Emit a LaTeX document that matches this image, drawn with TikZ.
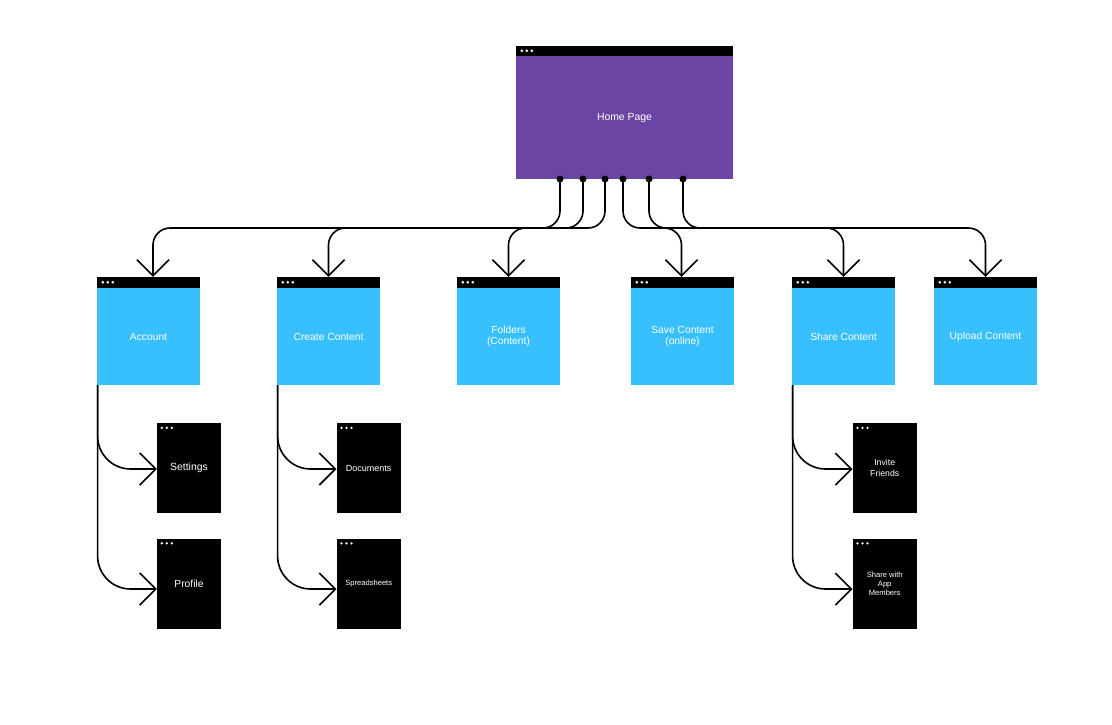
\documentclass[tikz,border=0pt]{standalone}
\usepackage{fontspec}
\setmainfont{Liberation Sans}
\usetikzlibrary{arrows.meta}
\definecolor{hpurple}{HTML}{6A45A3}
\definecolor{hblue}{HTML}{38BFFE}
\tikzset{
  homebox/.style={rectangle, fill=hpurple, minimum width=217pt, minimum height=123pt, inner sep=0pt, text=white, align=center, font=\fontsize{10.4pt}{12pt}\selectfont},
  bluebox/.style={rectangle, fill=hblue, minimum width=103pt, minimum height=97pt, inner sep=0pt, text=white, align=center, font=\fontsize{10.3pt}{11.3pt}\selectfont},
  subbox/.style={rectangle, fill=black, minimum width=64pt, minimum height=90pt, inner sep=0pt, text=white, align=center},
  jdot/.style={circle, fill=black, minimum size=7pt, inner sep=0pt},
  conn/.style={line width=1.6pt, rounded corners=17pt, -{Straight Barb[length=16pt,width=32pt,line width=1.6pt]}},
  subconn/.style={line width=1.6pt, rounded corners=33pt, -{Straight Barb[length=16pt,width=32pt,line width=1.6pt]}},
}
\begin{document}
\begin{tikzpicture}[x=1pt,y=-1pt]
\fill[white] (0,0) rectangle (1112,724);
\useasboundingbox (0,0) rectangle (1112,724);

% home page
\node[homebox] (home) at (624.5,117.5) {Home Page};
\fill[black] (home.north west) rectangle ([yshift=10pt]home.north east);
\foreach \k in {6,11,16} \fill[white] ([xshift=\k pt,yshift=5pt]home.north west) circle (1.4pt);

% level 1
\node[bluebox] (acc) at (148.5,336.5) {Account};
\node[bluebox] (cre) at (328.5,336.5) {Create Content};
\node[bluebox] (fol) at (508.5,336.5) {Folders\\(Content)};
\node[bluebox] (sav) at (682.5,336.5) {Save Content\\(online)};
\node[bluebox] (sha) at (843.5,336.5) {Share Content};
\node[bluebox] (upl) at (985.5,336.5) {Upload Content};
\foreach \n in {acc,cre,fol,sav,sha,upl} {
  \fill[black] (\n.north west) rectangle ([yshift=11pt]\n.north east);
  \foreach \k in {6,11,16} \fill[white] ([xshift=\k pt,yshift=5.5pt]\n.north west) circle (1.4pt);
}

% level 2
\node[subbox, font=\fontsize{10.4pt}{12pt}\selectfont] (set) at (189,468) {Settings};
\node[subbox, font=\fontsize{10.3pt}{12pt}\selectfont] (pro) at (189,583.5) {Profile};
\node[subbox, font=\fontsize{9pt}{11pt}\selectfont] (doc) at (368.7,468) {Documents};
\node[subbox, font=\fontsize{7.6pt}{9pt}\selectfont] (spr) at (368.7,583.5) {Spreadsheets};
\node[subbox, font=\fontsize{8.7pt}{10.7pt}\selectfont] (inv) at (884.7,468) {Invite\\Friends};
\node[subbox, font=\fontsize{7.6pt}{9pt}\selectfont] (swa) at (884.7,583.5) {Share with\\App\\Members};
\foreach \n in {set,pro,doc,spr,inv,swa} {
  \foreach \k in {5,10,15} \fill[white] ([xshift=\k pt,yshift=-5pt]\n.north west) circle (1.3pt);
}

% junction dots
\node[jdot] (d1) at (560,179) {};
\node[jdot] (d2) at (583,179) {};
\node[jdot] (d3) at (605,179) {};
\node[jdot] (d4) at (623,179) {};
\node[jdot] (d5) at (649,179) {};
\node[jdot] (d6) at (683,179) {};
\coordinate (h) at (0,228);

% arrow targets
\coordinate (t1) at ([xshift=4.5pt,yshift=11pt]acc.north);
\coordinate (t2) at ([yshift=11pt]cre.north);
\coordinate (t3) at ([yshift=11pt]fol.north);
\coordinate (t4) at ([xshift=-1pt,yshift=11pt]sav.north);
\coordinate (t5) at ([yshift=11pt]sha.north);
\coordinate (t6) at ([yshift=11pt]upl.north);

\draw[conn] (d1.center) -- (d1.center |- h) -- (t1 |- h) -- (t1);
\draw[conn] (d2.center) -- (d2.center |- h) -- (t2 |- h) -- (t2);
\draw[conn] (d3.center) -- (d3.center |- h) -- (t3 |- h) -- (t3);
\draw[conn] (d4.center) -- (d4.center |- h) -- (t4 |- h) -- (t4);
\draw[conn] (d5.center) -- (d5.center |- h) -- (t5 |- h) -- (t5);
\draw[conn] (d6.center) -- (d6.center |- h) -- (t6 |- h) -- (t6);

% sub connectors
\draw[subconn] ([xshift=0.8pt]acc.south west) |- ([yshift=-1pt]set.west);
\draw[subconn] ([xshift=0.8pt]acc.south west) |- ([yshift=-5.5pt]pro.west);
\draw[subconn] ([xshift=0.8pt]cre.south west) |- ([yshift=-1pt]doc.west);
\draw[subconn] ([xshift=0.8pt]cre.south west) |- ([yshift=-5.5pt]spr.west);
\draw[subconn] ([xshift=0.8pt]sha.south west) |- ([yshift=-1pt]inv.west);
\draw[subconn] ([xshift=0.8pt]sha.south west) |- ([yshift=-5.5pt]swa.west);
\end{tikzpicture}
\end{document}
